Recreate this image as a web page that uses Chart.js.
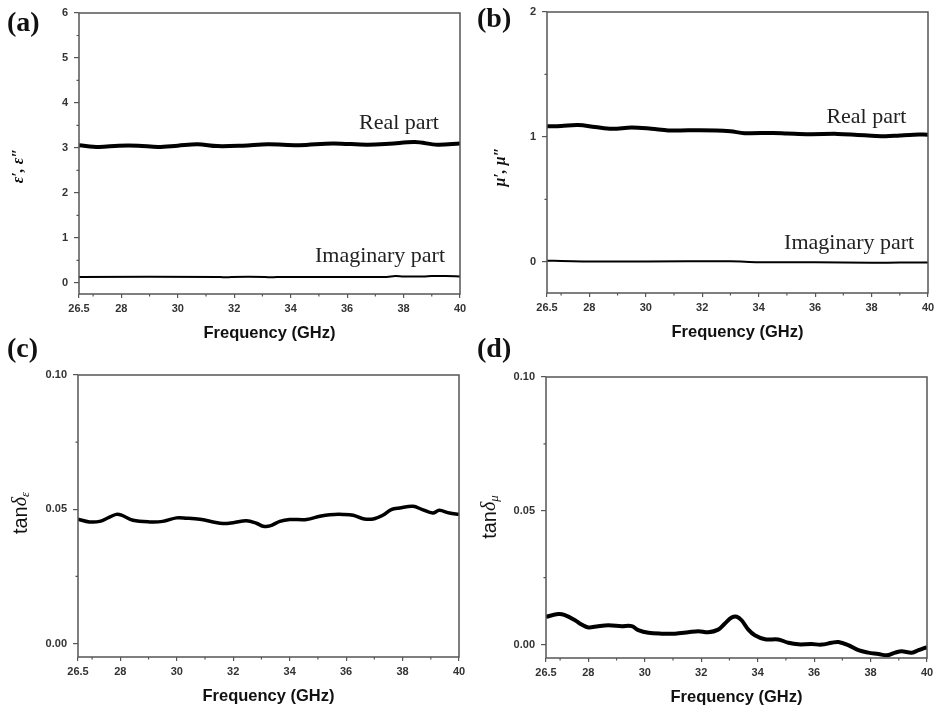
<!DOCTYPE html>
<html>
<head>
<meta charset="utf-8">
<script src="https://cdn.jsdelivr.net/npm/chart.js@4/dist/chart.umd.min.js"></script>
<style>
  html, body { margin: 0; padding: 0; background: #fff; }
  #wrap { position: relative; width: 935px; height: 710px; overflow: hidden; background: #fff; }
  canvas { position: absolute; display: block; }
</style>
</head>
<body>
<div id="wrap">
  <canvas id="pa" width="467" height="345" style="left:0;top:0"></canvas>
  <canvas id="pb" width="468" height="345" style="left:467px;top:0"></canvas>
  <canvas id="pc" width="467" height="380" style="left:0;top:330px"></canvas>
  <canvas id="pd" width="468" height="380" style="left:467px;top:330px"></canvas>
</div>
<script>
// ---- Frequency axis shared by all panels (GHz) ----
const FREQ_TICKS = [26.5, 28, 30, 32, 34, 36, 38, 40];
const FREQ_TICK_LABELS = ['26.5', '28', '30', '32', '34', '36', '38', '40'];
const FREQ_MINOR = [27, 29, 31, 33, 35, 37, 39];

// ---- (a) complex permittivity ----
const epsRealFreq = [26.5, 27.2, 27.9, 28.6, 29.3, 30.0, 30.7, 31.4, 32.3, 33.2, 34.3, 35.5, 36.7, 37.5, 38.4, 39.2, 40];
const epsRealVal  = [3.06, 3.02, 3.05, 3.05, 3.02, 3.05, 3.08, 3.04, 3.05, 3.08, 3.06, 3.10, 3.07, 3.09, 3.13, 3.07, 3.10];
const epsImagFreq = [26.5, 31.5, 31.7, 31.9, 33.1, 33.3, 33.5, 37.4, 37.7, 38.0, 38.7, 39.0, 39.5, 40];
const epsImagVal  = [0.13, 0.13, 0.12, 0.13, 0.13, 0.12, 0.13, 0.13, 0.15, 0.14, 0.14, 0.15, 0.15, 0.14];
const EPS_TICKS = [0, 1, 2, 3, 4, 5, 6];
const EPS_TICK_LABELS = ['0', '1', '2', '3', '4', '5', '6'];
const EPS_MINOR = [0.5, 1.5, 2.5, 3.5, 4.5, 5.5];

// ---- (b) complex permeability ----
const muRealFreq = [26.5, 27.0, 27.6, 28.2, 28.8, 29.5, 30.2, 30.8, 31.5, 32.5, 33.0, 33.5, 34.5, 35.0, 35.8, 36.8, 37.5, 38.0, 38.5, 39.0, 39.5, 40];
const muRealVal  = [1.085, 1.088, 1.095, 1.080, 1.065, 1.075, 1.065, 1.052, 1.053, 1.052, 1.045, 1.030, 1.032, 1.028, 1.022, 1.024, 1.016, 1.010, 1.005, 1.012, 1.018, 1.018];
const muImagFreq = [26.5, 27.0, 28.0, 30.0, 33.0, 34.0, 36.0, 38.0, 39.0, 40];
const muImagVal  = [0.008, 0.007, 0.003, 0.002, 0.004, -0.003, -0.003, -0.008, -0.006, -0.006];
const MU_TICKS = [0, 1, 2];
const MU_TICK_LABELS = ['0', '1', '2'];
const MU_MINOR = [0.5, 1.5];

// ---- (c) dielectric loss tangent ----
const tanEpsFreq = [26.5, 26.9, 27.27, 27.6, 27.86, 28.04, 28.45, 29.04, 29.5, 29.99, 30.34, 30.82, 31.29, 31.64, 32.0, 32.47, 32.82, 33.06, 33.3, 33.65, 34.0, 34.6, 35.07, 35.42, 35.9, 36.25, 36.6, 36.96, 37.3, 37.6, 37.9, 38.37, 38.7, 39.07, 39.3, 39.66, 40];
const tanEpsVal  = [0.0463, 0.0453, 0.0455, 0.0470, 0.0481, 0.0478, 0.0459, 0.0453, 0.0455, 0.0468, 0.0467, 0.0463, 0.0453, 0.0447, 0.0450, 0.0457, 0.0448, 0.0437, 0.0438, 0.0455, 0.0462, 0.0462, 0.0474, 0.0480, 0.0481, 0.0478, 0.0465, 0.0464, 0.0478, 0.0499, 0.0505, 0.0511, 0.0499, 0.0486, 0.0496, 0.0486, 0.0481];

// ---- (d) magnetic loss tangent ----
const tanMuFreq = [26.5, 26.94, 27.17, 27.53, 27.76, 28.0, 28.35, 28.71, 29.18, 29.54, 29.77, 30.13, 30.6, 31.07, 31.54, 31.9, 32.25, 32.6, 32.84, 33.08, 33.26, 33.43, 33.67, 33.9, 34.26, 34.73, 35.09, 35.44, 35.91, 36.27, 36.62, 36.86, 37.21, 37.57, 37.92, 38.28, 38.57, 38.87, 39.1, 39.46, 39.7, 40];
const tanMuVal  = [0.0104, 0.0114, 0.0110, 0.0091, 0.0075, 0.0064, 0.0069, 0.0072, 0.0069, 0.0069, 0.0054, 0.0044, 0.0041, 0.0041, 0.0046, 0.0050, 0.0046, 0.0056, 0.0079, 0.0101, 0.0104, 0.0091, 0.0056, 0.0035, 0.0020, 0.0019, 0.0007, 0.0001, 0.0002, 0.0000, 0.0007, 0.0010, -0.0002, -0.0021, -0.0030, -0.0035, -0.0040, -0.0030, -0.0025, -0.0030, -0.0021, -0.0009];

const TAN_TICKS = [0, 0.05, 0.10];
const TAN_TICK_LABELS = ['0.00', '0.05', '0.10'];
const TAN_MINOR = [0.025, 0.075];

// ---- styling ----
const AXIS_COLOR = '#555';
const TICK_FONT = { family: '"Liberation Sans", Arial, sans-serif', size: 11, weight: 'bold' };
const TITLE_FONT = { family: '"Liberation Sans", Arial, sans-serif', size: 16.5, weight: 'bold' };
const SERIF = '"Liberation Serif", "Times New Roman", serif';
const SANS = '"Liberation Sans", Arial, sans-serif';

const toPoints = (xs, ys) => xs.map((x, i) => ({ x, y: ys[i] }));

// frame, minor ticks, y-axis title, curve labels and panel letter
const decorPlugin = {
  id: 'decor',
  afterDraw(chart, args, o) {
    const { ctx, chartArea: a, scales: { x, y } } = chart;
    ctx.save();
    ctx.strokeStyle = AXIS_COLOR;
    ctx.lineWidth = 1.5;
    ctx.strokeRect(a.left, a.top, a.right - a.left, a.bottom - a.top);
    ctx.lineWidth = 1.2;
    ctx.beginPath();
    o.minorX.forEach(v => {
      const px = x.getPixelForValue(v);
      ctx.moveTo(px, a.bottom); ctx.lineTo(px, a.bottom + 2.5);
    });
    o.minorY.forEach(v => {
      const py = y.getPixelForValue(v);
      ctx.moveTo(a.left, py); ctx.lineTo(a.left - 2.5, py);
    });
    ctx.stroke();

    // panel letter
    ctx.fillStyle = '#111';
    ctx.font = 'bold 28px ' + SERIF;
    ctx.textAlign = 'left';
    ctx.textBaseline = 'alphabetic';
    ctx.fillText(o.letter, o.letterPos[0], o.letterPos[1]);

    // curve labels placed in data coordinates
    ctx.font = '22px ' + SERIF;
    ctx.fillStyle = '#222';
    (o.notes || []).forEach(n => {
      ctx.fillText(n.text, x.getPixelForValue(n.x), y.getPixelForValue(n.y));
    });

    // rotated y-axis title made of runs (font, text, baseline shift)
    const runs = o.yTitle;
    let total = 0;
    runs.forEach(r => { ctx.font = r.font; r.w = ctx.measureText(r.text).width; total += r.w; });
    ctx.translate(o.yTitlePos[0], o.yTitlePos[1]);
    ctx.rotate(-Math.PI / 2);
    ctx.fillStyle = '#111';
    ctx.textBaseline = 'middle';
    let cx = -total / 2;
    runs.forEach(r => {
      ctx.font = r.font;
      ctx.fillText(r.text, cx, r.dy || 0);
      cx += r.w;
    });
    ctx.restore();
  }
};

function makePanel(id, g) {
  const canvas = document.getElementById(id);
  const H = canvas.height;
  const titleLH = TITLE_FONT.size * 1.2;
  new Chart(canvas, {
    type: 'line',
    data: {
      datasets: g.series.map(s => ({
        data: toPoints(s.xs, s.ys),
        borderColor: '#000',
        borderWidth: s.width,
        pointRadius: 0,
        tension: 0.35,
        fill: false
      }))
    },
    options: {
      responsive: false,
      animation: false,
      events: [],
      layout: { padding: { left: 0, top: g.top, right: canvas.width - g.right, bottom: 0 } },
      plugins: {
        legend: { display: false },
        tooltip: { enabled: false },
        decor: g.decor
      },
      scales: {
        x: {
          type: 'linear',
          min: 26.5, max: 40,
          border: { display: false },
          grid: { drawOnChartArea: false, drawTicks: true, tickLength: 4, color: AXIS_COLOR, lineWidth: 1.2 },
          ticks: {
            autoSkip: false, maxRotation: 0, padding: 4, color: '#333', font: TICK_FONT,
            callback: (v, i) => FREQ_TICK_LABELS[i]
          },
          afterBuildTicks: s => { s.ticks = FREQ_TICKS.map(v => ({ value: v })); },
          afterFit: s => { s.height = H - g.bottom; s.paddingLeft = 0; s.paddingRight = 0; },
          title: {
            display: true, text: 'Frequency (GHz)', color: '#111', font: TITLE_FONT,
            padding: { top: 0, bottom: H - (g.bottom + 39) - titleLH / 2 }
          }
        },
        y: {
          type: 'linear',
          min: g.yMin, max: g.yMax,
          border: { display: false },
          grid: { drawOnChartArea: false, drawTicks: true, tickLength: 5, color: AXIS_COLOR, lineWidth: 1.2 },
          ticks: {
            autoSkip: false, padding: 6, color: '#333', font: TICK_FONT,
            callback: (v, i) => g.yLabels[i]
          },
          afterBuildTicks: s => { s.ticks = g.yTicks.map(v => ({ value: v })); },
          afterFit: s => { s.width = g.left; s.paddingTop = 0; s.paddingBottom = 0; }
        }
      }
    },
    plugins: [decorPlugin]
  });
}

const epsTitle = [{ font: 'bold italic 16px ' + SERIF, text: 'ε′, ε″' }];
const muTitle = [{ font: 'bold italic 16px ' + SERIF, text: 'μ′, μ″' }];
const tanEpsTitle = [
  { font: '20px ' + SANS, text: 'tan' },
  { font: 'italic 20px ' + SERIF, text: 'δ' },
  { font: 'italic 13px ' + SERIF, text: 'ε', dy: 5 }
];
const tanMuTitle = [
  { font: '20px ' + SANS, text: 'tan' },
  { font: 'italic 20px ' + SERIF, text: 'δ' },
  { font: 'italic 13px ' + SERIF, text: 'μ', dy: 5 }
];

makePanel('pa', {
  left: 79, right: 460, top: 13, bottom: 294,
  yMin: -0.25, yMax: 6, yTicks: EPS_TICKS, yLabels: EPS_TICK_LABELS,
  series: [
    { xs: epsRealFreq, ys: epsRealVal, width: 4 },
    { xs: epsImagFreq, ys: epsImagVal, width: 2 }
  ],
  decor: {
    minorX: FREQ_MINOR, minorY: EPS_MINOR,
    letter: '(a)', letterPos: [7, 31],
    yTitle: epsTitle, yTitlePos: [19, 166],
    notes: [
      { text: 'Real part', x: 36.42, y: 3.43 },
      { text: 'Imaginary part', x: 34.86, y: 0.47 }
    ]
  }
});

makePanel('pb', {
  left: 80, right: 461, top: 12, bottom: 293,
  yMin: -0.25, yMax: 2, yTicks: MU_TICKS, yLabels: MU_TICK_LABELS,
  series: [
    { xs: muRealFreq, ys: muRealVal, width: 4 },
    { xs: muImagFreq, ys: muImagVal, width: 2 }
  ],
  decor: {
    minorX: FREQ_MINOR, minorY: MU_MINOR,
    letter: '(b)', letterPos: [10, 27],
    yTitle: muTitle, yTitlePos: [34, 167],
    notes: [
      { text: 'Real part', x: 36.4, y: 1.11 },
      { text: 'Imaginary part', x: 34.9, y: 0.105 }
    ]
  }
});

makePanel('pc', {
  left: 78, right: 459, top: 45, bottom: 327,
  yMin: -0.005, yMax: 0.1, yTicks: TAN_TICKS, yLabels: TAN_TICK_LABELS,
  series: [{ xs: tanEpsFreq, ys: tanEpsVal, width: 3.5 }],
  decor: {
    minorX: FREQ_MINOR, minorY: TAN_MINOR,
    letter: '(c)', letterPos: [7, 27],
    yTitle: tanEpsTitle, yTitlePos: [21, 183]
  }
});

makePanel('pd', {
  left: 79, right: 460, top: 47, bottom: 328,
  yMin: -0.005, yMax: 0.1, yTicks: TAN_TICKS, yLabels: TAN_TICK_LABELS,
  series: [{ xs: tanMuFreq, ys: tanMuVal, width: 4 }],
  decor: {
    minorX: FREQ_MINOR, minorY: TAN_MINOR,
    letter: '(d)', letterPos: [10, 27],
    yTitle: tanMuTitle, yTitlePos: [23, 187]
  }
});
</script>
</body>
</html>
